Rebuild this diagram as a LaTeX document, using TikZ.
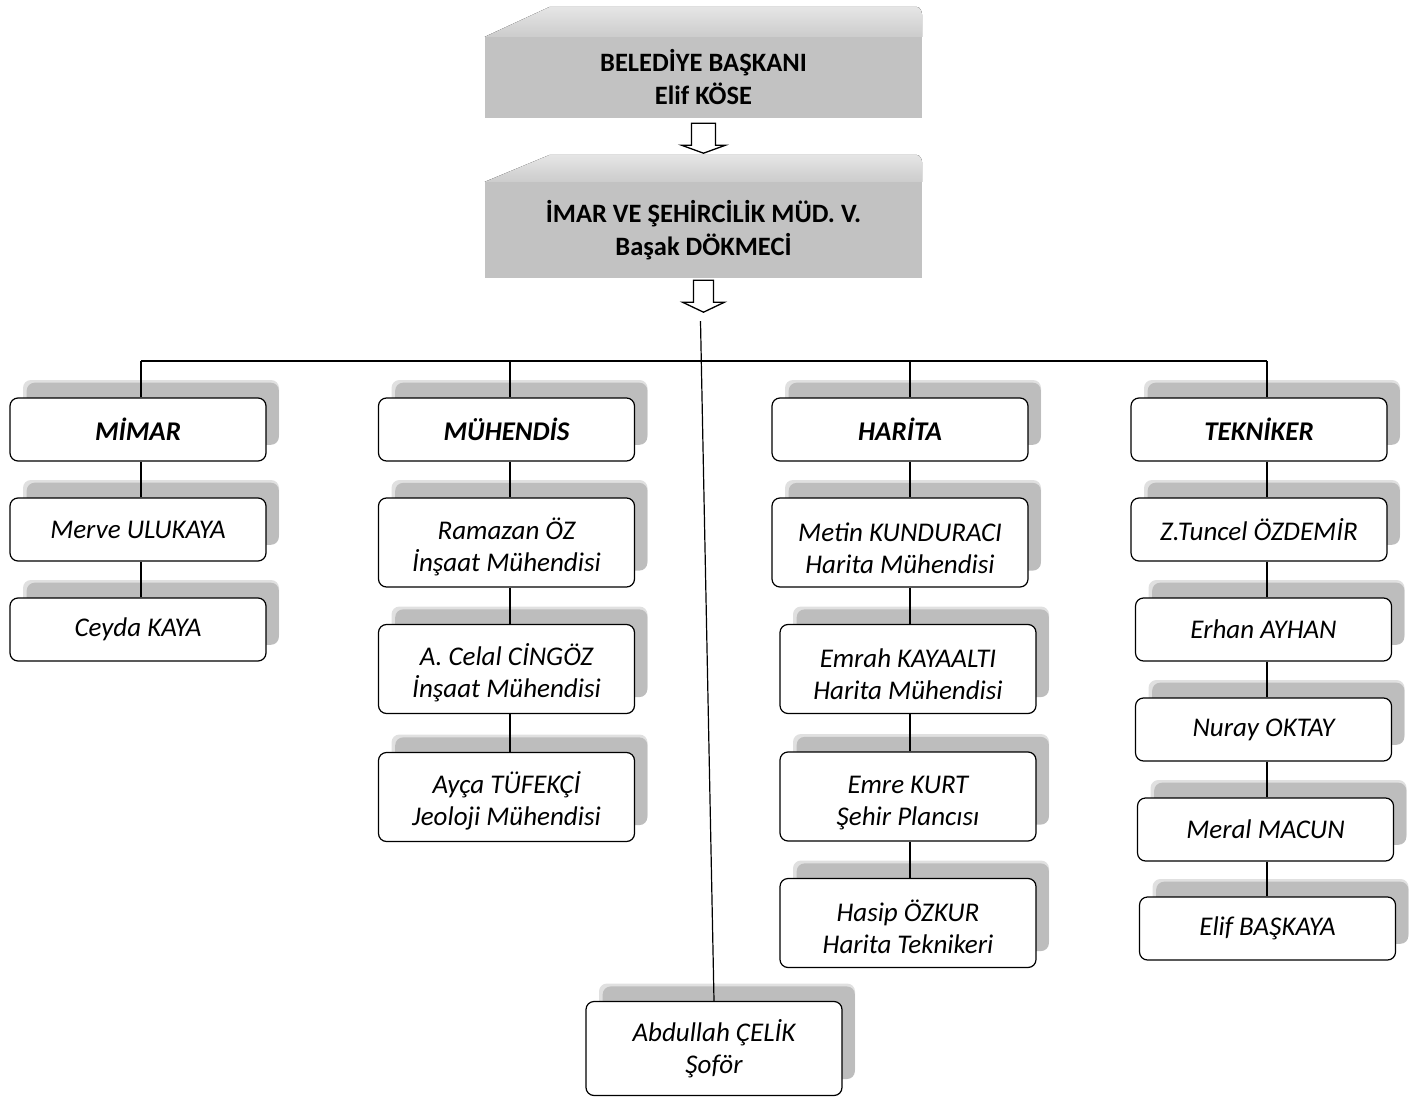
\documentclass[tikz,border=0pt]{standalone}
\usepackage{fontspec}
\setmainfont{Carlito}
\usetikzlibrary{shadows,calc}
\begin{document}
\begin{tikzpicture}[x=1pt,y=-1pt,
  pbox/.style={draw=black, line width=1.2pt, fill=white, rounded corners=8pt, align=center,
    inner sep=0pt, minimum width=256pt, minimum height=63pt,
    font=\fontsize{27}{32}\selectfont\itshape,
    general shadow={fill=black!12, shadow xshift=13pt, shadow yshift=18pt},
    general shadow={fill=black!26, shadow xshift=15pt, shadow yshift=16pt, shadow scale=0.985}},
  tall/.style={minimum height=89pt, text height=62pt},
  hd/.style={font=\fontsize{27}{32}\selectfont\bfseries\itshape},
  topbox/.style={fill=black!24, draw=none, inner sep=0pt, minimum width=437pt, align=center,
    font=\fontsize{26.5}{33}\selectfont\bfseries},
  topface/.style={draw=none, top color=black!10, bottom color=black!20},
  blockarr/.style={draw=black, fill=white, line width=1.3pt, line join=miter},
  link/.style={draw=black, line width=1.2pt}
]
\useasboundingbox[fill=white] (0,0) rectangle (1416,1099);

% top boxes
\node[topbox, minimum height=81pt] (mayor) at (703.5,77.5) {BELEDİYE BAŞKANI\\Elif KÖSE};
\fill[topface] (mayor.north west) -- ++(65,-30) -- ($(mayor.north east)+(-6,-30)$)
  to[out=0,in=90] ($(mayor.north east)+(0,-20)$) -- (mayor.north east) -- cycle;
\node[topbox, minimum height=96pt] (director) at (703.5,230) {İMAR VE ŞEHİRCİLİK MÜD. V.\\Başak DÖKMECİ};
\fill[topface] (director.north west) -- ++(65,-27) -- ($(director.north east)+(-6,-27)$)
  to[out=0,in=90] ($(director.north east)+(0,-18)$) -- (director.north east) -- cycle;

% block arrows
\draw[blockarr] ($(mayor.south)+(-12,5)$) -- ++(24,0) -- ++(0,22) -- ++(10,0) -- ++(-22,8)
  -- ++(-22,-8) -- ++(10,0) -- cycle;
\draw[blockarr] ($(director.south)+(-10,2)$) -- ++(20,0) -- ++(0,22) -- ++(11,0) -- ++(-21,10)
  -- ++(-21,-10) -- ++(11,0) -- cycle;

% column heads
\node[pbox,hd] (mimar) at (138,429.5) {MİMAR};
\node[pbox,hd] (muh) at (506.5,429.5) {MÜHENDİS};
\node[pbox,hd] (har) at (900,429.5) {HARİTA};
\node[pbox,hd] (tek) at (1259,429.5) {TEKNİKER};

% MIMAR
\node[pbox] (merve) at (138,529.5) {Merve ULUKAYA};
\node[pbox] (ceyda) at (138,629.5) {Ceyda KAYA};
% MUHENDIS
\node[pbox,tall] (ramazan) at (506.5,542.5) {Ramazan ÖZ\\İnşaat Mühendisi};
\node[pbox,tall] (celal) at (506.5,669) {A. Celal CİNGÖZ\\İnşaat Mühendisi};
\node[pbox,tall] (ayca) at (506.5,797) {Ayça TÜFEKÇİ\\Jeoloji Mühendisi};
% HARITA
\node[pbox,tall] (metin) at (900,542.5) {Metin KUNDURACI\\Harita Mühendisi};
\node[pbox,tall] (emrah) at (908,669) {Emrah KAYAALTI\\Harita Mühendisi};
\node[pbox,tall] (emre) at (908,796.5) {Emre KURT\\Şehir Plancısı};
\node[pbox,tall] (hasip) at (908,923) {Hasip ÖZKUR\\Harita Teknikeri};
% TEKNIKER
\node[pbox] (tuncel) at (1259,529.5) {Z.Tuncel ÖZDEMİR};
\node[pbox] (erhan) at (1263.5,629.5) {Erhan AYHAN};
\node[pbox] (nuray) at (1263.5,729.5) {Nuray OKTAY};
\node[pbox] (meral) at (1265.5,829.5) {Meral MACUN};
\node[pbox] (elif) at (1267.5,928.5) {Elif BAŞKAYA};
% driver
\node[pbox,minimum height=94pt] (driver) at (714,1048.5) {Abdullah ÇELİK\\Şoför};

% connectors
\coordinate (cM) at (141,361);
\coordinate (cE) at (510,361);
\coordinate (cH) at (910,361);
\coordinate (cT) at (1267,361);
\coordinate (hub) at ($(director.south)+(-3,43)$);

\draw[link] (cM) -- (cT);
\draw[link] (hub) -- (driver.north);
\draw[link] (cM) -- (mimar.north -| cM);
\draw[link] (cE) -- (muh.north -| cE);
\draw[link] (cH) -- (har.north -| cH);
\draw[link] (cT) -- (tek.north -| cT);

\draw[link] (mimar.south -| cM) -- (merve.north -| cM);
\draw[link] (merve.south -| cM) -- (ceyda.north -| cM);

\draw[link] (muh.south -| cE) -- (ramazan.north -| cE);
\draw[link] (ramazan.south -| cE) -- (celal.north -| cE);
\draw[link] (celal.south -| cE) -- (ayca.north -| cE);

\draw[link] (har.south -| cH) -- (metin.north -| cH);
\draw[link] (metin.south -| cH) -- (emrah.north -| cH);
\draw[link] (emrah.south -| cH) -- (emre.north -| cH);
\draw[link] (emre.south -| cH) -- (hasip.north -| cH);

\draw[link] (tek.south -| cT) -- (tuncel.north -| cT);
\draw[link] (tuncel.south -| cT) -- (erhan.north -| cT);
\draw[link] (erhan.south -| cT) -- (nuray.north -| cT);
\draw[link] (nuray.south -| cT) -- (meral.north -| cT);
\draw[link] (meral.south -| cT) -- (elif.north -| cT);
\end{tikzpicture}
\end{document}
